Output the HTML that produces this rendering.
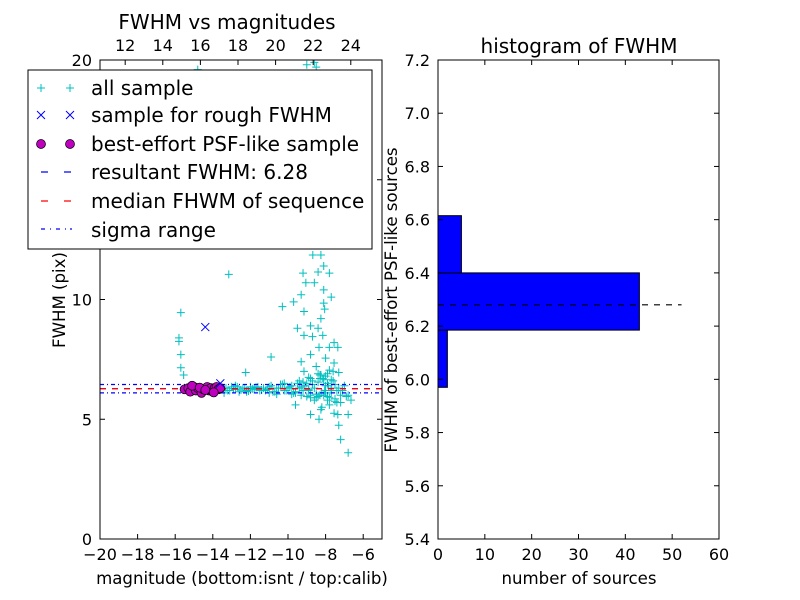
<!DOCTYPE html>
<html><head><meta charset="utf-8">
<style>
body{margin:0;background:#fff;}
svg{display:block;font-family:"DejaVu Sans","Liberation Sans",sans-serif;}
</style></head>
<body>
<svg id="chart" width="800" height="600" viewBox="0 0 800 600">
<rect width="800" height="600" fill="#fff"/>
<g id="plots"></g>
<g>
<text x="227" y="29" font-size="20" text-anchor="middle">FWHM vs magnitudes</text>
<text x="242" y="584" font-size="16.6" text-anchor="middle">magnitude (bottom:isnt / top:calib)</text>
<text x="65" y="300" font-size="16.6" text-anchor="middle" transform="rotate(-90 65 300)">FWHM (pix)</text>
</g>
<g font-size="20">
<rect x="28" y="70" width="344" height="179" fill="#fff" stroke="#000" stroke-width="1"/>
<g><path d="M37 88H45M41 84V92M66 88H74M70 84V92" stroke="#00bfbf"/><text x="91" y="95">all sample</text></g>
<g><path d="M37 111L45 119M37 119L45 111M66 111L74 119M66 119L74 111" stroke="#0000ff"/><text x="91" y="122">sample for rough FWHM</text></g>
<g><circle cx="41" cy="144" r="4.5" fill="#bf00bf" stroke="#000" stroke-width="0.7"/><circle cx="70" cy="144" r="4.5" fill="#bf00bf" stroke="#000" stroke-width="0.7"/><text x="91" y="151">best-effort PSF-like sample</text></g>
<g><path d="M41 172H48M64 172H71" stroke="#0000ff" stroke-width="1.3"/><text x="91" y="179">resultant FWHM: 6.28</text></g>
<g><path d="M41 201H48M64 201H71" stroke="#ff0000" stroke-width="1.3"/><text x="91" y="208">median FHWM of sequence</text></g>
<g><path d="M41 229H45M50 229H51M56 229H60M65 229H66M70 229H72" stroke="#0000ff" stroke-width="1.3"/><text x="91" y="237">sigma range</text></g>
</g>
<g>
<text x="579" y="53" font-size="20" text-anchor="middle">histogram of FWHM</text>
<text x="579" y="584" font-size="16.6" text-anchor="middle">number of sources</text>
<text x="397" y="300" font-size="16.6" text-anchor="middle" transform="rotate(-90 397 300)">FWHM of best-effort PSF-like sources</text>
</g>
</svg>
<script>
// ---- left scatter data ----
const magAll = [-8.68,-8.25,-8.1,-9.2,-7.8,-8.4,-9.05,-8.6,-8.1,-9.3,-9.7,-10.3,-7.7,-8.1,-9.15,-8.05,-8.25,-9.5,-8.8,-8.4,-9.15,-8.7,-8.15,-7.55,-8.35,-7.8,-7.35,-8.8,-8.0,-9.3,-7.55,-8.5,-7.8,-9.15,-7.3,-8.25,-8.8,-7.7,
 -9.6,-8.8,-7.9,-7.2,-6.65,-8.25,-7.55,-8.8,-8.35,-7.35,-6.8,-7.3,-7.2,-6.8,-8.05,
 -9.0,-8.6,-8.5,-14.8,-15.7,-15.8,-15.8,-15.7,-15.7,-15.55,-13.15,-12.25,-10.9,
 -13.5,-13.3,-13.1,-12.9,-12.7,-12.5,-12.3,-12.1,-11.9,-11.7,-11.5,-11.3,-11.1,-10.9,-10.7,-10.5,-10.3,-10.1,-9.9,-9.7,-9.5,-9.3,-9.1,-8.9,-8.7,-8.5,-8.3,-8.1,-7.9,-7.7,-7.5,-7.3,-7.1,-6.9,
 -13.4,-12.8,-12.2,-11.6,-11.0,-10.4,-9.8,-9.2,-8.6,-8.0,-7.4,-6.8,-12.0,-11.2,-10.6,-10.0,-9.4,-9.0,-8.4,-7.8,-7.6,-8.9,-8.2,-7.0,-9.6,-8.7,-8.3,-7.9,-7.5,-10.2,-11.8,-12.6,
 -13.45,-13.2,-13.0,-12.8,-12.4,-12.2,-11.8,-11.4,-11.0,-10.8,-10.6,-10.2,-9.8,-9.6,-9.4,-9.2,-9.0,-8.8,-8.6,-8.4,-8.2,-8.0,-7.8,-7.6,-7.4,-7.2,-8.9,-8.5,-8.1,-7.7,-9.3,-8.3,-7.9,-7.5,-8.7,-8.0,-7.7,-8.4,-8.15,-7.85];
const fwhmAll = [11.86,11.86,11.4,11.1,11.1,11.15,10.7,10.7,10.4,10.2,9.9,9.7,10.1,9.85,9.5,9.6,9.2,8.8,8.9,8.8,8.5,8.45,8.5,8.2,8.0,8.0,8.0,7.7,7.55,7.4,7.35,7.2,7.05,7.0,6.95,6.85,6.7,6.65,
 5.6,5.9,5.95,5.7,5.8,5.4,5.25,5.2,5.0,5.2,5.2,4.75,4.15,3.6,6.2,
 19.8,19.9,19.7,19.6,9.45,8.4,8.25,7.7,7.15,6.85,11.05,6.95,7.6,
 6.25,6.3,6.2,6.28,6.35,6.22,6.3,6.18,6.27,6.33,6.2,6.3,6.25,6.4,6.15,6.3,6.45,6.2,6.35,6.1,6.5,6.0,6.4,6.2,6.6,5.9,6.7,6.0,6.5,6.1,5.85,6.3,6.2,5.95,
 6.1,6.4,6.15,6.35,6.1,6.45,6.05,6.55,5.8,6.8,5.7,6.0,6.35,6.2,6.05,6.3,6.6,5.95,6.9,5.6,7.0,6.75,5.5,6.4,6.15,6.45,6.0,6.9,5.75,6.5,6.25,6.15,
 6.3,6.2,6.35,6.25,6.3,6.2,6.3,6.22,6.35,6.15,6.3,6.2,6.4,6.1,6.3,6.2,6.5,6.0,6.3,6.55,6.1,6.4,5.9,6.6,6.2,6.0,6.25,6.05,6.65,6.3,6.35,6.85,5.8,6.45,6.45,6.1,6.2,5.95,6.7,6.4];
const magRough = [-14.4,-13.6];
const fwhmRough = [8.85,6.5];
const magBest = [-15.5,-15.3,-15.2,-15.0,-14.9,-14.8,-14.6,-14.5,-14.3,-14.2,-14.1,-14.0,-13.9,-13.8,-13.7,-13.6,-15.1,-14.7,-14.4,-13.95];
const fwhmBest = [6.25,6.3,6.15,6.35,6.2,6.3,6.1,6.25,6.35,6.2,6.3,6.15,6.3,6.35,6.25,6.3,6.4,6.32,6.22,6.12];
const resultFWHM = 6.28, medianFWHM = 6.28, sigmaLo = 6.1, sigmaHi = 6.45;
const xTicksBottom = [-20,-18,-16,-14,-12,-10,-8,-6];
const xTicksTop = [12,14,16,18,20,22,24];
const yTicksLeft = [0,5,10,15,20];
// ---- histogram data ----
const binEdges = [5.97,6.185,6.40,6.615];
const binCounts = [2,43,5];
const histXTicks = [0,10,20,30,40,50,60];
const histYTicks = [5.4,5.6,5.8,6.0,6.2,6.4,6.6,6.8,7.0,7.2];

const NS="http://www.w3.org/2000/svg";
const root=document.getElementById('plots');
function el(tag,attrs,parent){const e=document.createElementNS(NS,tag);for(const k in attrs)e.setAttribute(k,attrs[k]);(parent||root).appendChild(e);return e;}
function txt(s,x,y,attrs,parent){const t=el('text',Object.assign({x:x,y:y,'font-size':16,fill:'#000'},attrs),parent);t.textContent=s;return t;}

const L={x0:100,x1:382,y0:60,y1:539};
const lx=m=>L.x0+(m+20)/15*(L.x1-L.x0);
const ly=f=>L.y1-f/20*(L.y1-L.y0);
const topX=v=>L.x0+(v-10.66)/15*(L.x1-L.x0);
const gL=el('g',{});


const cp=el('clipPath',{id:'cl'},gL);
el('rect',{x:L.x0,y:L.y0,width:L.x1-L.x0,height:L.y1-L.y0},cp);
const plot=el('g',{'clip-path':'url(#cl)'},gL);
function hline(v,color,dash,name){const l=el('line',{x1:L.x0,x2:L.x1,y1:ly(v),y2:ly(v),stroke:color,'stroke-width':1.3,'stroke-dasharray':dash},plot);}
for(let i=0;i<magAll.length;i++){
  const x=lx(magAll[i]),y=ly(fwhmAll[i]);
  const p=el('path',{d:`M${x-4} ${y}H${x+4}M${x} ${y-4}V${y+4}`,stroke:'#00bfbf','stroke-width':1},plot);
  
  
}
hline(sigmaLo,'#0000ff','4 3 1 3','sigma-low-line');
hline(sigmaHi,'#0000ff','4 3 1 3','sigma-high-line');
hline(resultFWHM,'#0000ff','6 6','resultant-fwhm-line');
hline(medianFWHM,'#ff0000','6 6','median-fwhm-line');
for(let i=0;i<magBest.length;i++){
  const c=el('circle',{cx:lx(magBest[i]),cy:ly(fwhmBest[i]),r:4.5,fill:'#bf00bf',stroke:'#000','stroke-width':0.7},plot);
  
  
}
for(let i=0;i<magRough.length;i++){
  const x=lx(magRough[i]),y=ly(fwhmRough[i]);
  const p=el('path',{d:`M${x-4} ${y-4}L${x+4} ${y+4}M${x-4} ${y+4}L${x+4} ${y-4}`,stroke:'#0000ff','stroke-width':1},plot);
  
  
}
el('rect',{x:L.x0,y:L.y0,width:L.x1-L.x0,height:L.y1-L.y0,fill:'none',stroke:'#000','stroke-width':1},gL);
xTicksBottom.forEach(v=>{const x=lx(v);el('line',{x1:x,x2:x,y1:L.y1,y2:L.y1-5,stroke:'#000'},gL);
  const t=txt((v<0?'\u2212':'')+Math.abs(v),x,L.y1+21,{'text-anchor':'middle'},gL);});
xTicksTop.forEach(v=>{const x=topX(v);el('line',{x1:x,x2:x,y1:L.y0,y2:L.y0+5,stroke:'#000'},gL);
  const t=txt(String(v),x,L.y0-9,{'text-anchor':'middle'},gL);});
yTicksLeft.forEach(v=>{const y=ly(v);el('line',{x1:L.x0,x2:L.x0+5,y1:y,y2:y,stroke:'#000'},gL);el('line',{x1:L.x1,x2:L.x1-5,y1:y,y2:y,stroke:'#000'},gL);
  const t=txt(String(v),L.x0-8,y+6,{'text-anchor':'end'},gL);});

const R={x0:438,x1:719,y0:60,y1:539};
const hx=c=>R.x0+c/60*(R.x1-R.x0);
const hy=v=>R.y1-(v-5.4)/1.8*(R.y1-R.y0);
const gR=el('g',{});


for(let i=0;i<binCounts.length;i++){
  const r=el('rect',{x:hx(0),y:hy(binEdges[i+1]),width:hx(binCounts[i])-hx(0),height:hy(binEdges[i])-hy(binEdges[i+1]),fill:'#0000ff',stroke:'#000','stroke-width':1},gR);
  
  
}
const ml=el('line',{x1:hx(0),x2:hx(52),y1:hy(resultFWHM),y2:hy(resultFWHM),stroke:'#000','stroke-width':1.2,'stroke-dasharray':'6 6'},gR);


el('rect',{x:R.x0,y:R.y0,width:R.x1-R.x0,height:R.y1-R.y0,fill:'none',stroke:'#000'},gR);
histXTicks.forEach(v=>{const x=hx(v);el('line',{x1:x,x2:x,y1:R.y1,y2:R.y1-5,stroke:'#000'},gR);el('line',{x1:x,x2:x,y1:R.y0,y2:R.y0+5,stroke:'#000'},gR);
  const t=txt(String(v),x,R.y1+21,{'text-anchor':'middle'},gR);});
histYTicks.forEach(v=>{const y=hy(v);el('line',{x1:R.x0,x2:R.x0+5,y1:y,y2:y,stroke:'#000'},gR);el('line',{x1:R.x1,x2:R.x1-5,y1:y,y2:y,stroke:'#000'},gR);
  const t=txt(v.toFixed(1),R.x0-8,y+6,{'text-anchor':'end'},gR);});
</script>
</body></html>
